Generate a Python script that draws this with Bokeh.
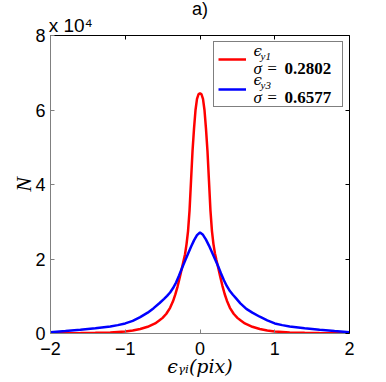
import numpy as np
from bokeh.plotting import figure
from bokeh.models import (Range1d, FixedTicker, LinearAxis, Legend, LegendItem)
from bokeh.core.properties import value
from bokeh.embed import file_html
from bokeh.resources import INLINE

# ---------------- data (N in units of 1e4) ----------------
x_red = [-2.0, -1.8, -1.6, -1.4, -1.2, -1.0, -0.9, -0.8, -0.7, -0.6, -0.55, -0.5, -0.45,
         -0.4, -0.36, -0.33, -0.3, -0.27, -0.24, -0.22, -0.2, -0.18, -0.16, -0.14, -0.12,
         -0.1, -0.08, -0.06, -0.04, -0.02, 0.0, 0.02, 0.04, 0.06, 0.08, 0.1, 0.12, 0.14,
         0.16, 0.18, 0.2, 0.22, 0.24, 0.27, 0.3, 0.33, 0.36, 0.4, 0.45, 0.5, 0.55, 0.6,
         0.7, 0.8, 0.9, 1.0, 1.2, 1.4, 1.6, 1.8, 2.0]
n_red = [0.005, 0.008, 0.012, 0.018, 0.03, 0.055, 0.08, 0.12, 0.18, 0.27, 0.34, 0.42, 0.53,
         0.69, 0.87, 1.05, 1.26, 1.51, 1.77, 1.95, 2.13, 2.4, 2.75, 3.3, 4.1,
         4.9, 5.5, 6.0, 6.3, 6.42, 6.45, 6.42, 6.3, 6.0, 5.5, 4.9, 4.1, 3.3,
         2.75, 2.4, 2.15, 1.97, 1.8, 1.53, 1.28, 1.06, 0.88, 0.69, 0.53, 0.42, 0.34, 0.27,
         0.18, 0.12, 0.08, 0.055, 0.03, 0.018, 0.012, 0.008, 0.005]

x_blue = [-2.0, -1.8, -1.6, -1.4, -1.2, -1.1, -1.0, -0.9, -0.8, -0.7, -0.62, -0.54, -0.48,
          -0.44, -0.4, -0.36, -0.32, -0.28, -0.24, -0.2, -0.16, -0.12, -0.08, -0.04, 0.0,
          0.04, 0.08, 0.12, 0.16, 0.2, 0.24, 0.28, 0.32, 0.36, 0.4, 0.44, 0.48, 0.54, 0.62,
          0.7, 0.8, 0.9, 1.0, 1.1, 1.2, 1.4, 1.6, 1.8, 2.0]
n_blue = [0.035, 0.065, 0.10, 0.14, 0.19, 0.225, 0.27, 0.34, 0.44, 0.56, 0.68, 0.82, 0.93,
          1.01, 1.1, 1.22, 1.37, 1.56, 1.76, 1.95, 2.14, 2.33, 2.5, 2.64, 2.71,
          2.65, 2.52, 2.36, 2.18, 2.0, 1.82, 1.62, 1.43, 1.27, 1.14, 1.04, 0.95, 0.81, 0.66,
          0.56, 0.45, 0.35, 0.27, 0.225, 0.19, 0.14, 0.10, 0.065, 0.035]

x_ticks = [-2, -1, 0, 1, 2]
x_tick_labels = ["\u22122", "\u22121", "0", "1", "2"]
y_ticks = [0, 20000, 40000, 60000, 80000]
y_tick_labels = ["0", "2", "4", "6", "8"]

sigma_labels = ["0.2802", "0.6577"]
eps_subs = ["y1", "y3"]

SCALE = 1e4

# ---------------- figure ----------------
W, H = 386, 382
p = figure(width=W, height=H, output_backend="svg", toolbar_location=None,
           x_range=Range1d(-2, 2), y_range=Range1d(0, 80000),
           min_border_left=50, min_border_right=37, min_border_top=35, min_border_bottom=49,
           x_axis_type=None, y_axis_type=None, title="a)")
p.title.align = "center"
p.title.text_font = "Liberation Sans"
p.title.text_font_size = "18px"
p.title.text_font_style = "normal"
p.title.text_color = "black"
p.title.standoff = -15
p.xgrid.visible = False
p.ygrid.visible = False
p.outline_line_color = None
p.background_fill_color = "white"
p.border_fill_color = "white"

FONT = "Liberation Sans"

def style_axis(ax, ticks, labels, color, show_labels, standoff):
    ax.ticker = FixedTicker(ticks=ticks)
    ax.major_label_overrides = {t: l for t, l in zip(ticks, labels)}
    ax.axis_line_color = color
    ax.axis_line_width = 1
    ax.major_tick_line_color = color
    ax.major_tick_in = 4
    ax.major_tick_out = 0
    ax.minor_tick_line_color = None
    ax.major_label_text_font = FONT
    ax.major_label_text_font_size = "18px" if show_labels else "1px"
    ax.major_label_text_color = "black" if show_labels else None
    ax.major_label_standoff = standoff
    ax.axis_label_text_color = "black"

bottom = LinearAxis(axis_label="\u03f5\u1d67\u1d62(pix)")
style_axis(bottom, x_ticks, x_tick_labels, "#808080", True, 8)
bottom.axis_label_text_font = "DejaVu Serif"
bottom.axis_label_text_font_style = "italic"
bottom.axis_label_text_font_size = "19px"
bottom.axis_label_standoff = -3
p.add_layout(bottom, "below")

left = LinearAxis(axis_label="N")
style_axis(left, y_ticks, y_tick_labels, "#808080", True, 5)
left.axis_label_text_font = "Liberation Serif"
left.axis_label_text_font_style = "italic"
left.axis_label_text_font_size = "22px"
left.axis_label_standoff = -4
p.add_layout(left, "left")

# exponent label on the top axis, pushed to the left edge with trailing spaces
top = LinearAxis(axis_label="x 10\u2074" + " " * 49)
style_axis(top, x_ticks, x_tick_labels, "black", False, 0)
top.axis_label_text_font = FONT
top.axis_label_text_font_style = "normal"
top.axis_label_text_font_size = "19px"
top.axis_label_standoff = 0
p.add_layout(top, "above")

right = LinearAxis()
style_axis(right, y_ticks, y_tick_labels, "black", False, 0)
p.add_layout(right, "right")

r1 = p.line(x_red, np.array(n_red) * SCALE, line_color="#ff0000", line_width=2.5)
r2 = p.line(x_blue, np.array(n_blue) * SCALE, line_color="#0000ff", line_width=2.5)

legend = Legend(items=[LegendItem(label=" ", renderers=[r1]),
                       LegendItem(label=" ", renderers=[r2])],
                location="top_right", margin=6, padding=4, spacing=4,
                glyph_width=28, glyph_height=26, label_width=88, label_height=26,
                label_standoff=4, border_line_color="black", border_line_width=1,
                background_fill_alpha=0.0, label_text_font_size="10px")
p.add_layout(legend, "center")

# page-pixel -> data helpers for text placement (frame: x 50..349, y 35..333 on page)
def X(px):
    return -2 + (px - 50) / 299 * 4

def Y(py):
    return (333 - py) / 298 * 80000

# legend texts as text glyphs (inside the frame)
def gtext(txt, px, py, size, font, style):
    p.text(x=[X(px)], y=[Y(py)], text=[txt], text_font=value(font),
           text_font_size=value(size), text_font_style=value(style),
           text_align="left", text_baseline="middle", text_color="black")

for i, (sub, sig) in enumerate(zip(eps_subs, sigma_labels)):
    dy = i * 29
    gtext("\u03f5", 253, 50 + dy, "15px", "DejaVu Serif", "italic")
    gtext(sub, 260, 55 + dy, "11px", "Liberation Serif", "italic")
    gtext("\u03c3 =", 253, 68 + dy, "17px", "Liberation Serif", "italic")
    gtext(sig, 284, 68 + dy, "17px", "Liberation Serif", "bold")

open("out.html", "w").write(file_html(p, INLINE))
